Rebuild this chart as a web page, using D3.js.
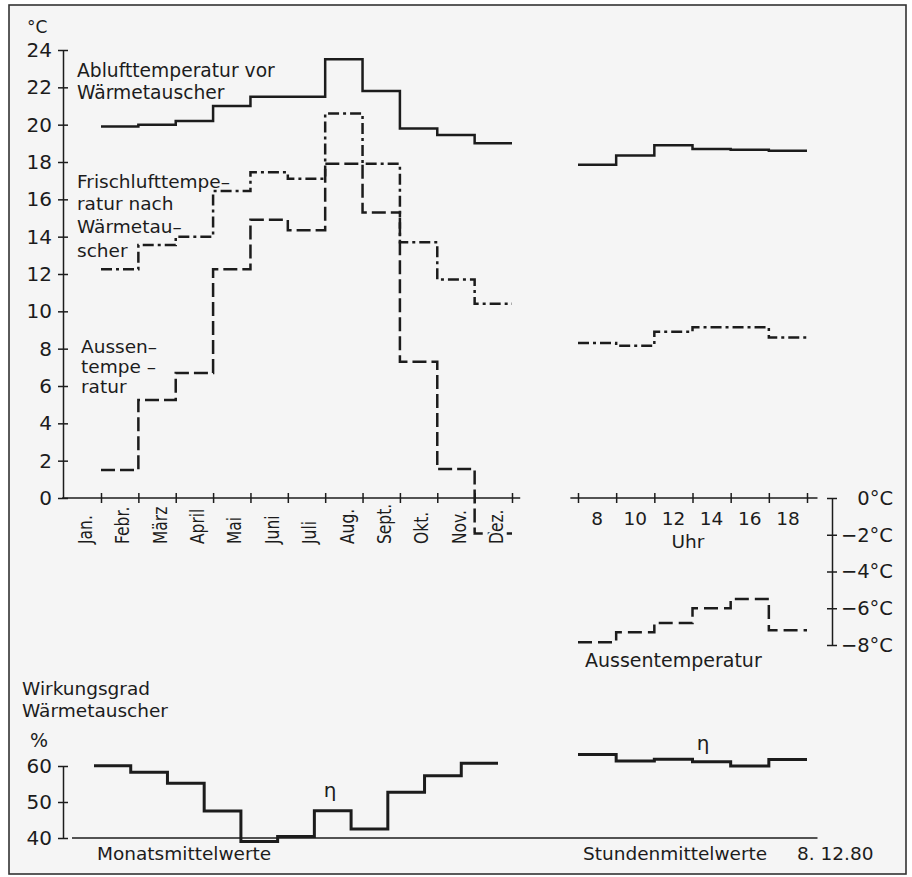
<!DOCTYPE html>
<html>
<head>
<meta charset="utf-8">
<script src="https://cdn.jsdelivr.net/npm/d3@7"></script>
<style>
  body { margin: 0; background: #fff; }
  svg text { font-family: "DejaVu Sans", sans-serif; fill: #1c1c1c; }
</style>
</head>
<body>
<svg id="chart" width="912" height="877"></svg>
<script>
// monthly means, one step per month
const months = ["Jan.", "Febr.", "März", "April", "Mai", "Juni", "Juli", "Aug.", "Sept.", "Okt.", "Nov.", "Dez."];
const abluftMonth = [19.9, 20.0, 20.2, 21.0, 21.5, 21.5, 23.5, 21.8, 19.8, 19.45, 19.0];
const frischMonth = [12.25, 13.55, 14.0, 16.45, 17.45, 17.1, 20.6, 17.9, 13.7, 11.7, 10.4];
const aussenMonth = [1.5, 5.25, 6.7, 12.25, 14.9, 14.35, 17.9, 15.3, 7.3, 1.55, -1.9];
const etaMonth = [60.1, 58.25, 55.2, 47.5, 39.0, 40.4, 47.6, 42.5, 52.7, 57.3, 60.75];

// hourly means 8.12.80, 2-hour steps from 7 to 19 Uhr
const hours = [7, 9, 11, 13, 15, 17];
const hourTicks = [7, 9, 11, 13, 15, 17, 19];
const hourLabels = [8, 10, 12, 14, 16, 18];
const abluftHour = [17.85, 18.35, 18.9, 18.7, 18.65, 18.6];
const frischHour = [8.3, 8.15, 8.9, 9.15, 9.15, 8.6];
const aussenHour = [-7.85, -7.3, -6.8, -6.0, -5.5, -7.2];
const etaHour = [63.2, 61.4, 61.9, 61.2, 60.0, 61.8];

// tick values
const tempTicks = d3.range(0, 25, 2);
const minusTicks = [0, -2, -4, -6, -8];
const etaTicks = [40, 50, 60];

const ink = "#1c1c1c";
const paper = "#f5f5f5";
const svg = d3.select("#chart");

// paper + frame
svg.append("rect")
    .attr("x", 9).attr("y", 5)
    .attr("width", 897).attr("height", 869)
    .attr("fill", paper)
    .attr("stroke", "#333").attr("stroke-width", 1.6);

// scales
const x = d3.scaleLinear().domain([0, 11]).range([101, 512]);
const y = d3.scaleLinear().domain([0, 24]).range([498, 50]);
const xh = d3.scaleLinear().domain([7, 19]).range([578, 807]);
const yr = d3.scaleLinear().domain([-8, 0]).range([645, 498]);
const xb = d3.scaleLinear().domain([0, 11]).range([94, 498]);
const yb = d3.scaleLinear().domain([40, 60]).range([838, 766]);

// step path through keys, last step extended by one unit
function stepPath(xs, ys, keys, vals, stepW) {
    const pts = vals.map((v, i) => [keys[i], v]);
    pts.push([keys[keys.length - 1] + stepW, vals[vals.length - 1]]);
    return d3.line()
        .x(d => xs(d[0]))
        .y(d => ys(d[1]))
        .curve(d3.curveStepAfter)(pts);
}

function styleAxis(g, size) {
    g.attr("font-family", null).attr("font-size", null);
    g.select(".domain").attr("stroke", ink).attr("stroke-width", 1.5);
    g.selectAll(".tick line").attr("stroke", ink).attr("stroke-width", 1.5);
    g.selectAll(".tick text").style("font-size", size + "px");
}

function text(xp, yp, str, size, anchor) {
    return svg.append("text")
        .attr("x", xp).attr("y", yp)
        .attr("text-anchor", anchor || "start")
        .style("font-size", size + "px")
        .text(str);
}

const idx = d3.range(0, 11);

// ---- monthly temperature panel ----
const yAxis = svg.append("g")
    .attr("transform", "translate(63,0)")
    .call(d3.axisLeft(y).tickValues(tempTicks).tickSize(5).tickPadding(6).tickSizeOuter(0));
styleAxis(yAxis, 20);
yAxis.selectAll(".tick line").attr("x1", 5);

const xAxis = svg.append("g")
    .attr("transform", `translate(0,${y(0)})`)
    .call(d3.axisBottom(x).tickValues(d3.range(0, 12)).tickFormat("").tickSize(5).tickSizeOuter(0));
styleAxis(xAxis, 17);
xAxis.select(".domain").remove();
xAxis.selectAll(".tick line").attr("y1", -5);
xAxis.append("line")
    .attr("x1", x(-1.04)).attr("x2", x(11.22))
    .attr("stroke", ink).attr("stroke-width", 1.5);

const monthSeries = [
    { vals: abluftMonth, dash: null },
    { vals: frischMonth, dash: "11,4,3,4" },
    { vals: aussenMonth, dash: "14,5" }
];
svg.selectAll(".mline")
    .data(monthSeries)
    .join("path")
    .attr("class", "mline")
    .attr("d", d => stepPath(x, y, idx, d.vals, 1))
    .attr("fill", "none")
    .attr("stroke", ink)
    .attr("stroke-width", 2.5)
    .attr("stroke-dasharray", d => d.dash);

// month names, tall narrow lettering, drawn over the lines with a paper halo
svg.selectAll(".month")
    .data(months)
    .join("text")
    .attr("class", "month")
    .attr("transform", (d, i) => `translate(${x(i) - 9},544) rotate(-90) scale(1,1.3)`)
    .style("font-size", "15.5px")
    .attr("stroke", paper)
    .attr("stroke-width", 4)
    .attr("paint-order", "stroke")
    .text(d => d);

text(27, 33, "°C", 17);
text(77, 77, "Ablufttemperatur vor", 18.7);
text(77, 99, "Wärmetauscher", 18.7);
text(77, 188, "Frischlufttempe–", 18.5);
text(77, 210, "ratur nach", 18.5);
text(77, 233, "Wärmetau–", 18.5);
text(77, 257, "scher", 18.5);
text(81, 353, "Aussen–", 18.5);
text(81, 373, "tempe –", 18.5);
text(81, 393, "ratur", 18.5);

// ---- hourly panel ----
const hAxis = svg.append("g")
    .attr("transform", `translate(0,${y(0)})`)
    .call(d3.axisBottom(xh).tickValues(hourTicks).tickFormat("").tickSize(5).tickSizeOuter(0));
styleAxis(hAxis, 18);
hAxis.select(".domain").remove();
hAxis.selectAll(".tick line").attr("y1", -5);
hAxis.append("line")
    .attr("x1", xh(6.6)).attr("x2", xh(19.55))
    .attr("stroke", ink).attr("stroke-width", 1.5);

svg.selectAll(".hlab")
    .data(hourLabels)
    .join("text")
    .attr("class", "hlab")
    .attr("x", d => xh(d))
    .attr("y", 525)
    .attr("text-anchor", "middle")
    .style("font-size", "18.5px")
    .text(d => d);
text(688, 548, "Uhr", 18.5, "middle");

const rAxis = svg.append("g")
    .attr("transform", "translate(832,0)")
    .call(d3.axisRight(yr).tickValues(minusTicks).tickSize(5).tickPadding(56).tickSizeOuter(0)
        .tickFormat(d => (d < 0 ? "−" : "") + Math.abs(d) + "°C"));
styleAxis(rAxis, 19.5);
rAxis.selectAll(".tick line").attr("x1", -5);
rAxis.selectAll(".tick text").attr("text-anchor", "end");

const hourSeries = [
    { vals: abluftHour, ys: y, dash: null },
    { vals: frischHour, ys: y, dash: "11,4,3,4" },
    { vals: aussenHour, ys: yr, dash: "14,6" }
];
svg.selectAll(".hline")
    .data(hourSeries)
    .join("path")
    .attr("class", "hline")
    .attr("d", d => stepPath(xh, d.ys, hours, d.vals, 2))
    .attr("fill", "none")
    .attr("stroke", ink)
    .attr("stroke-width", 2.5)
    .attr("stroke-dasharray", d => d.dash);

text(585, 667, "Aussentemperatur", 19);

// ---- efficiency panel ----
const eAxis = svg.append("g")
    .attr("transform", "translate(63,0)")
    .call(d3.axisLeft(yb).tickValues(etaTicks).tickSize(5).tickPadding(6).tickSizeOuter(0));
styleAxis(eAxis, 20);
eAxis.selectAll(".tick line").attr("x1", 5);

svg.append("line")
    .attr("x1", xb(-0.6)).attr("x2", xh(19.55))
    .attr("y1", yb(40)).attr("y2", yb(40))
    .attr("stroke", ink).attr("stroke-width", 1.3);

svg.append("path")
    .attr("d", stepPath(xb, yb, idx, etaMonth, 1))
    .attr("fill", "none").attr("stroke", ink).attr("stroke-width", 3);
svg.append("path")
    .attr("d", stepPath(xh, yb, hours, etaHour, 2))
    .attr("fill", "none").attr("stroke", ink).attr("stroke-width", 3);

text(22, 695, "Wirkungsgrad", 18.5);
text(22, 717, "Wärmetauscher", 18.5);
text(30, 747, "%", 19);
text(330, 797, "η", 20, "middle");
text(703, 750, "η", 20, "middle");
text(97, 860, "Monatsmittelwerte", 18.5);
text(583, 860, "Stundenmittelwerte", 18.5);
text(797, 860, "8. 12.80", 18.5);
</script>
</body>
</html>
